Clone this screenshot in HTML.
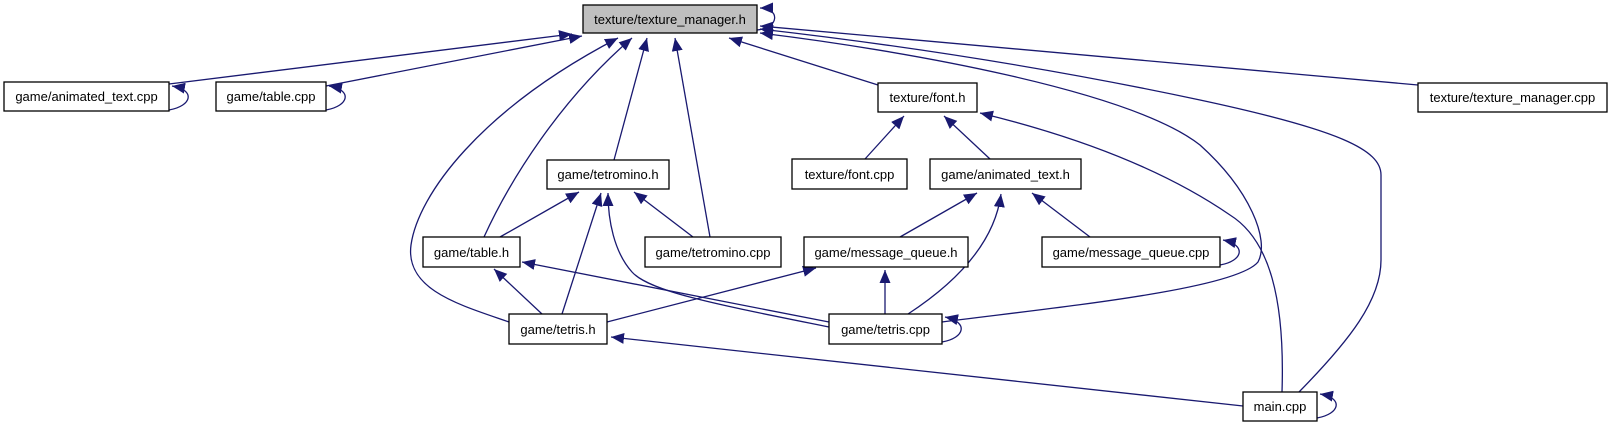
<!DOCTYPE html>
<html><head><meta charset="utf-8"><style>
html,body{margin:0;padding:0;background:#fff;}
svg{display:block;}
text{font-family:"Liberation Sans",Arial,sans-serif;font-size:13px;fill:#000;}
.n{fill:#fff;stroke:#000;stroke-width:1.3;}
.e{fill:none;stroke:#191970;stroke-width:1.3;}
</style></head><body>
<svg width="1611" height="427" viewBox="0 0 1611 427" xmlns="http://www.w3.org/2000/svg">
<defs>
<marker id="a" markerUnits="userSpaceOnUse" markerWidth="16" markerHeight="12" refX="13" refY="5.5" orient="auto">
<path d="M0,0 L13,5.5 L0,11 Z" fill="#191970"/>
</marker>
</defs>
<g class="e" marker-end="url(#a)">
<path d="M169,84 L572,34"/>
<path d="M326,86 L582,36"/>
<path d="M509,322 C460,305 405,290 411,245 C418,195 480,110 618,38"/>
<path d="M484,237 C510,180 560,100 632,38"/>
<path d="M614,160 L647,38"/>
<path d="M710,237 L675,38"/>
<path d="M878,85 L729,38"/>
<path d="M942,322 C1050,308 1235,290 1258,262 C1270,240 1250,190 1200,145 C1130,90 900,50 760,33"/>
<path d="M1282,392 C1285,300 1270,240 1230,215 C1150,160 1050,130 980,113"/>
<path d="M1299,392 C1350,340 1381,300 1381,260 L1381,175 C1381,150 1340,130 1200,100 C1050,68 900,45 760,29"/>
<path d="M1418,85 L760,26"/>
<path d="M757,30 C780,28 780,8 760,8"/>
<path d="M169,110 C192,106 196,90 172,86"/>
<path d="M326,110 C349,106 353,90 329,86"/>
<path d="M865,159 L904,116"/>
<path d="M990,159 L944,116"/>
<path d="M900,237 L977,193"/>
<path d="M1090,237 L1032,193"/>
<path d="M1220,265 C1243,261 1247,245 1223,240"/>
<path d="M908,314 C960,280 995,240 1001,194"/>
<path d="M885,314 L885,270"/>
<path d="M942,342 C965,338 969,322 945,317"/>
<path d="M607,322 L816,268"/>
<path d="M829,322 L522,262"/>
<path d="M829,327 C720,305 650,292 632,272 C614,252 608,220 608,193"/>
<path d="M562,314 L601,193"/>
<path d="M542,314 L494,269"/>
<path d="M500,237 L579,192"/>
<path d="M693,237 L634,192"/>
<path d="M1243,406 L611,337"/>
<path d="M1317,418 C1340,414 1344,398 1320,394"/>
</g>
<rect x="583" y="5" width="174" height="28" fill="#bfbfbf" stroke="#000" stroke-width="1.3"/>
<text x="670" y="24" text-anchor="middle">texture/texture_manager.h</text>
<rect class="n" x="4" y="82" width="165" height="29"/><text x="86.5" y="101" text-anchor="middle">game/animated_text.cpp</text>
<rect class="n" x="216" y="82" width="110" height="29"/><text x="271" y="101" text-anchor="middle">game/table.cpp</text>
<rect class="n" x="878" y="83" width="99" height="29"/><text x="927.5" y="102" text-anchor="middle">texture/font.h</text>
<rect class="n" x="1418" y="83" width="189" height="29"/><text x="1512.5" y="102" text-anchor="middle">texture/texture_manager.cpp</text>
<rect class="n" x="547" y="160" width="122" height="29"/><text x="608" y="179" text-anchor="middle">game/tetromino.h</text>
<rect class="n" x="792" y="159" width="115" height="30"/><text x="849.5" y="179" text-anchor="middle">texture/font.cpp</text>
<rect class="n" x="930" y="159" width="151" height="30"/><text x="1005.5" y="179" text-anchor="middle">game/animated_text.h</text>
<rect class="n" x="423" y="237" width="97" height="30"/><text x="471.5" y="257" text-anchor="middle">game/table.h</text>
<rect class="n" x="645" y="237" width="136" height="30"/><text x="713" y="257" text-anchor="middle">game/tetromino.cpp</text>
<rect class="n" x="804" y="237" width="164" height="30"/><text x="886" y="257" text-anchor="middle">game/message_queue.h</text>
<rect class="n" x="1042" y="237" width="178" height="30"/><text x="1131" y="257" text-anchor="middle">game/message_queue.cpp</text>
<rect class="n" x="509" y="314" width="98" height="30"/><text x="558" y="334" text-anchor="middle">game/tetris.h</text>
<rect class="n" x="829" y="314" width="113" height="30"/><text x="885.5" y="334" text-anchor="middle">game/tetris.cpp</text>
<rect class="n" x="1243" y="392" width="74" height="29"/><text x="1280" y="411" text-anchor="middle">main.cpp</text>
</svg>
</body></html>
